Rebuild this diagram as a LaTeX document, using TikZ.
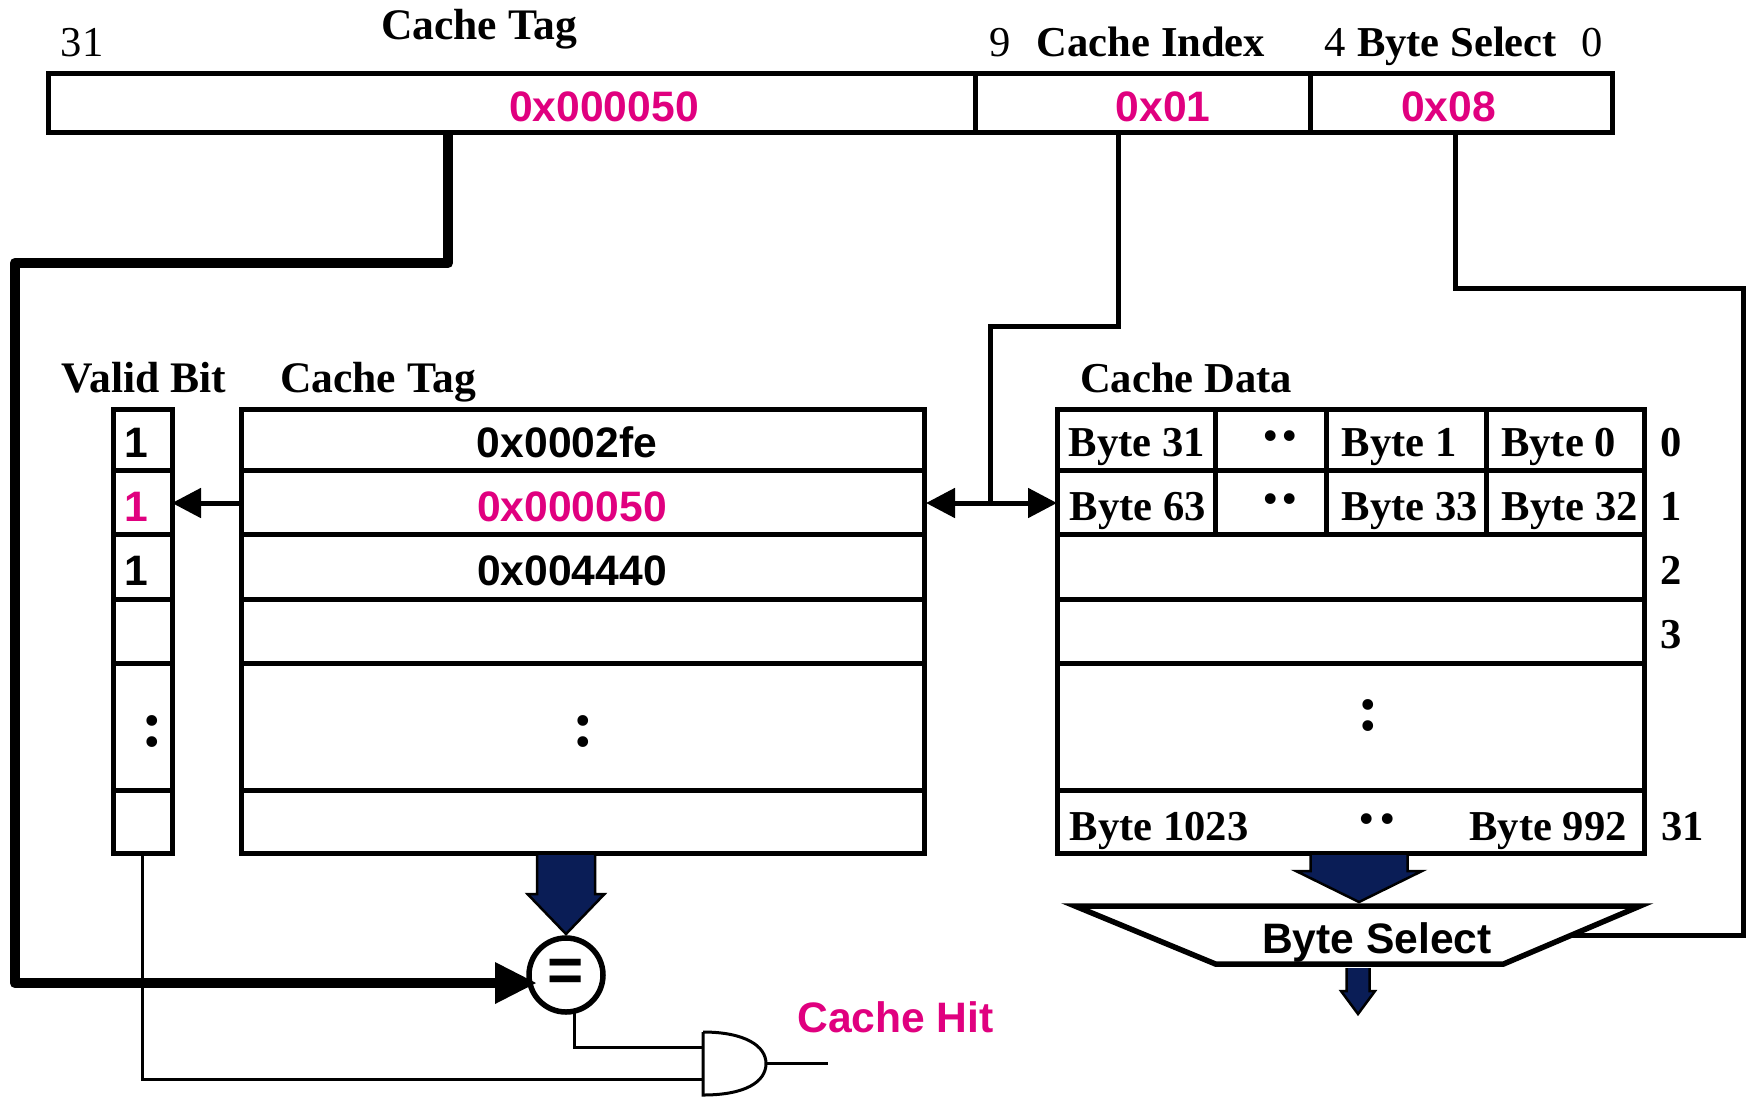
\documentclass[tikz,border=0pt]{standalone}
\usepackage{fontspec}
\usetikzlibrary{arrows.meta,calc}
\setmainfont{Liberation Serif}
\newfontfamily\hsans{Liberation Sans}
\definecolor{hitpink}{HTML}{E0007F}
\definecolor{busnavy}{HTML}{0A1D56}
\newcommand{\bigfont}{\fontsize{42.6}{50}\selectfont}
\newcommand{\widefont}{\fontsize{43.6}{50}\selectfont}
\newcommand{\dotfont}{\fontsize{66}{66}\selectfont}
% \cellbox{name}{x1}{y1}{x2}{y2}
\newcommand{\cellbox}[5]{%
  \pgfmathsetmacro{\cbw}{#4-#2}\pgfmathsetmacro{\cbh}{#5-#3}%
  \node[cellstyle,minimum width=\cbw pt,minimum height=\cbh pt] (#1) at ({(#2+#4)/2},{(#3+#5)/2}) {};}
% \busarrow{name}{x}{half shaft}{half head}{top}{neck}{tip}
\newcommand{\busarrow}[7]{%
  \coordinate (#1) at (#2,#7);
  \fill[busnavy] (#2-#3,#5) -- (#2+#3,#5) -- (#2+#3,#6) -- (#2+#4,#6) -- (#1) -- (#2-#4,#6) -- (#2-#3,#6) -- cycle;
  \draw[black,line width=2.5pt,line join=miter] (#2-#3,#5) -- (#2-#3,#6) -- (#2-#4,#6) -- (#1) -- (#2+#4,#6) -- (#2+#3,#6) -- (#2+#3,#5);}
\tikzset{
  cellstyle/.style={draw=black,line width=5pt,inner sep=0pt,outer sep=0pt,fill=none},
  wire/.style={draw=black,line width=5pt,line join=miter},
  thin wire/.style={draw=black,line width=3pt,line join=miter},
  thick wire/.style={draw=black,line width=10.5pt,line join=round},
  hdr/.style={anchor=base,inner sep=0pt,font=\bigfont\bfseries,text=black},
  widehdr/.style={anchor=base,inner sep=0pt,font=\widefont\bfseries,text=black},
  num/.style={anchor=base,inner sep=0pt,font=\bigfont,text=black},
  val/.style={anchor=base,inner sep=0pt,font=\bigfont\hsans\bfseries,text=black},
  hit/.style={val,text=hitpink},
  dotmark/.style={anchor=base,inner sep=0pt,font=\dotfont\bfseries,text=black},
  sq/.style={-{Triangle[length=29pt,width=29pt]}},
}
\begin{document}
\begin{tikzpicture}[x=1pt,y=-1pt]
\useasboundingbox[fill=white] (0,0) rectangle (1752,1096);

% address fields
\cellbox{ftag}{48}{73}{975}{132.5}
\cellbox{fidx}{975}{73}{1310}{132.5}
\cellbox{fsel}{1310}{73}{1612}{132.5}
\node[widehdr] (lTagTop) at (479,39.5) {Cache Tag};
\node[num] (n31) at (82,56.5) {31};
\node[num] (n9) at (1000,56.5) {9};
\node[hdr] (lIdx) at (1151,56) {Cache Index};
\node[num] (n4) at (1335,56.5) {4};
\node[hdr] (lSel) at (1457,56) {Byte Select};
\node[num] (n0) at (1592,56.5) {0};
\node[hit] (vTag) at (604,121) {0x000050};
\node[hit] (vIdx) at (1163,121) {0x01};
\node[hit] (vSel) at (1448.5,121) {0x08};

% headers
\node[widehdr] (hValid) at (144,392) {Valid Bit};
\node[widehdr] (hTag) at (378,392) {Cache Tag};
\node[hdr] (hData) at (1186,392) {Cache Data};

% valid bit column
\cellbox{v0}{113}{409}{172}{470}
\cellbox{v1}{113}{470}{172}{534}
\cellbox{v2}{113}{534}{172}{599}
\cellbox{v3}{113}{599}{172}{663}
\cellbox{v4}{113}{663}{172}{790}
\cellbox{v5}{113}{790}{172}{853}
\node[val] (tv0) at (136,457) {1};
\node[hit] (tv1) at (136,521) {1};
\node[val] (tv2) at (136,585) {1};
\node[dotmark] (tvd) at (152,746.5) {:};

% tag column
\cellbox{t0}{241}{409}{924}{470}
\cellbox{t1}{241}{470}{924}{534}
\cellbox{t2}{241}{534}{924}{599}
\cellbox{t3}{241}{599}{924}{663}
\cellbox{t4}{241}{663}{924}{790}
\cellbox{t5}{241}{790}{924}{853}
\node[val] (tt0) at (567,457) {0x0002fe};
\node[hit] (tt1) at (572,521) {0x000050};
\node[val] (tt2) at (572,585) {0x004440};
\node[dotmark] (ttd) at (583,746.5) {:};

% data column
\cellbox{d00}{1057}{409}{1215}{470}
\cellbox{d01}{1215}{409}{1326}{470}
\cellbox{d02}{1326}{409}{1486}{470}
\cellbox{d03}{1486}{409}{1644}{470}
\cellbox{d10}{1057}{470}{1215}{534}
\cellbox{d11}{1215}{470}{1326}{534}
\cellbox{d12}{1326}{470}{1486}{534}
\cellbox{d13}{1486}{470}{1644}{534}
\cellbox{d2}{1057}{534}{1644}{599}
\cellbox{d3}{1057}{599}{1644}{663}
\cellbox{d4}{1057}{663}{1644}{790}
\cellbox{d5}{1057}{790}{1644}{853}
\node[hdr] (b31) at (1137,456) {Byte 31};
\node[hdr] (b1) at (1399,456) {Byte 1};
\node[hdr] (b0) at (1558.5,456) {Byte 0};
\node[hdr] (b63) at (1138,520) {Byte 63};
\node[hdr] (b33) at (1410,520) {Byte 33};
\node[hdr] (b32) at (1570,520) {Byte 32};
\node[hdr] (b1023) at (1159,840) {Byte 1023};
\node[hdr] (b992) at (1548,840) {Byte 992};
\node[dotmark] (dd0) at (1280,440.5) {.\hspace{2.5pt}.};
\node[dotmark] (dd1) at (1280,503.5) {.\hspace{2.5pt}.};
\node[dotmark] (dd5) at (1377,823.5) {.\hspace{5pt}.};
\node[dotmark] (ddd) at (1368,730.5) {:};
\node[hdr] (r0) at (1671,456) {0};
\node[hdr] (r1) at (1671,520) {1};
\node[hdr] (r2) at (1671,584) {2};
\node[hdr] (r3) at (1671,648) {3};
\node[hdr] (r31) at (1682.5,840) {31};

% comparator
\node[circle,draw=black,line width=5.5pt,minimum size=74pt,inner sep=0pt,outer sep=0pt,fill=white] (eq) at (566,975) {};
\node[anchor=center,inner sep=0pt,font=\fontsize{62}{62}\selectfont\hsans\bfseries] (eqt) at (eq.center) {=};
\busarrow{tagbus}{566}{29}{38.5}{855}{894}{934}

% thick tag wire
\coordinate (w1) at (448,263);
\coordinate (w2) at (15,263);
\coordinate (w3) at (15,983);
\coordinate (eqin) at ($(eq.west)+(7,8)$);
\draw[thick wire] (w1 |- ftag.south) -- (w1) -- (w2) -- (w3) -- ($(eqin)+(-30,0)$);
\draw[draw=none,fill=black] (495,962) -- (eqin) -- (495,1004) -- cycle;

% index wire
\coordinate (w4) at (1118,326);
\coordinate (w5) at (990,326);
\coordinate (w6) at (990,503);
\draw[wire] (w4 |- fidx.south) -- (w4) -- (w5) -- (w6);
\draw[wire,sq] (w6) -- (w6 -| d10.west);
\draw[wire,sq] (w6) -- ($(w6 -| t1.east)+(2,0)$);
\draw[wire,sq] (t1.west |- w6) -- (v1.east |- w6);

% data bus, mux
\busarrow{databus}{1359}{48.5}{63}{855}{871}{902}
\node[minimum width=565pt,minimum height=58pt,inner sep=0pt,outer sep=0pt] (bsel) at (1357.5,935) {};
\draw[line width=5.5pt,line join=miter] (bsel.north west) -- (bsel.north east) -- ($(bsel.south)+(146,0)$) -- ($(bsel.south)+(-142,0)$) -- cycle;
\node[val] (lbsel) at (1377,953) {Byte Select};
\busarrow{outbus}{1358}{11.5}{17}{968}{991}{1014}

% select wire
\coordinate (w7) at (1455,288);
\coordinate (w8) at (1743,288);
\coordinate (w9) at (1743,935);
\coordinate (w10) at (1570,935);
\draw[wire] (w7 |- fsel.south) -- (w7) -- (w8) -- (w9) -- (w10);

% AND gate
\node[minimum width=63pt,minimum height=63pt,inner sep=0pt,outer sep=0pt] (andg) at (734.5,1063.5) {};
\draw[thin wire] (andg.north west) -- (andg.south west) .. controls (745,1095) and (766,1082) .. (andg.east) .. controls (766,1046) and (745,1032) .. (andg.north west);
\coordinate (w11) at (574,1047);
\coordinate (w12) at (142,1079);
\coordinate (w13) at (828,1063.5);
\draw[thin wire] (w11 |- eq.south) -- (w11) -- (w11 -| andg.west);
\draw[thin wire] (w12 |- v5.south) -- (w12) -- (w12 -| andg.west);
\draw[thin wire] (andg.east) -- (w13);
\node[hit] (lhit) at (895.5,1032) {Cache Hit};
\end{tikzpicture}
\end{document}
